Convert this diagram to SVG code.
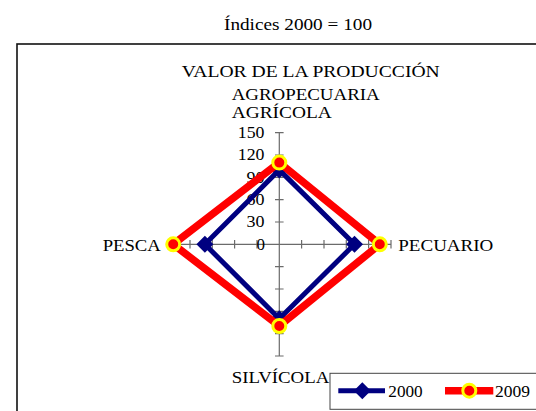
<svg xmlns="http://www.w3.org/2000/svg" width="536" height="411" viewBox="0 0 536 411">
<defs>
<style>
text{font-family:'Liberation Serif','Times New Roman',serif;font-size:16px;fill:#000}
.ax{stroke:#6b6b6b;stroke-width:1.2;fill:none}
.s2000{stroke:#000080;stroke-width:5;fill:none;stroke-linejoin:miter}
.s2009{stroke:#ff0000;stroke-width:7.5;fill:none;stroke-linejoin:miter}
.dia{fill:#000080}
.cir{fill:#ff0000;stroke:#ffff00;stroke-width:3}
</style>
<path id="dm" d="M0,-8.5 L8.5,0 L0,8.5 L-8.5,0 Z" class="dia"/>
</defs>
<rect width="536" height="411" fill="#fff"/>
<text id="subtitle" x="224" y="29.5" style="font-size:17px" textLength="148" lengthAdjust="spacingAndGlyphs">Índices 2000 = 100</text>
<rect id="frame" x="17" y="44" width="600" height="420" fill="#fff" stroke="#111" stroke-width="1.6"/>
<g id="title">
<text x="181.7" y="77.3" textLength="258" lengthAdjust="spacingAndGlyphs">VALOR DE LA PRODUCCIÓN</text>
<text x="231.7" y="100" textLength="148" lengthAdjust="spacingAndGlyphs">AGROPECUARIA</text>
</g>
<g id="axes">
<path class="ax" d="M279.3,132.7 V356 M167.6,244.3 H391"/>
<path class="ax" d="M275,132.7 H283.6 M275,155 H283.6 M275,177.3 H283.6 M275,199.6 H283.6 M275,222 H283.6 M275,266.6 H283.6 M275,289 H283.6 M275,311.3 H283.6 M275,333.6 H283.6 M275,356 H283.6"/>
<path class="ax" d="M167.6,240 V248.6 M190,240 V248.6 M212.3,240 V248.6 M234.6,240 V248.6 M257,240 V248.6 M301.6,240 V248.6 M324,240 V248.6 M346.3,240 V248.6 M368.6,240 V248.6 M391,240 V248.6"/>
</g>
<g id="axis-labels" text-anchor="end">
<text x="264.5" y="138" textLength="26.7" lengthAdjust="spacingAndGlyphs">150</text>
<text x="264.5" y="160.3" textLength="26.7" lengthAdjust="spacingAndGlyphs">120</text>
<text x="264.5" y="182.6" textLength="18" lengthAdjust="spacingAndGlyphs">90</text>
<text x="264.5" y="205" textLength="18" lengthAdjust="spacingAndGlyphs">60</text>
<text x="264.5" y="227.3" textLength="18" lengthAdjust="spacingAndGlyphs">30</text>
<text x="265" y="250" textLength="8.5" lengthAdjust="spacingAndGlyphs">0</text>
</g>
<g id="node-agricola"><text x="231.7" y="118.3" textLength="100" lengthAdjust="spacingAndGlyphs">AGRÍCOLA</text></g>
<g id="node-pecuario"><text x="398.3" y="251" textLength="95" lengthAdjust="spacingAndGlyphs">PECUARIO</text></g>
<g id="node-silvicola"><text x="231.7" y="383.3" textLength="97.6" lengthAdjust="spacingAndGlyphs">SILVÍCOLA</text></g>
<g id="node-pesca"><text x="102.7" y="251" textLength="58" lengthAdjust="spacingAndGlyphs">PESCA</text></g>
<g id="connectors">
<g id="series-2000">
<path class="s2000" d="M279.3,169.9 L354.5,244.3 L279.3,318.7 L204.9,244.3 Z"/>
<use href="#dm" x="279.3" y="169.9"/>
<use href="#dm" x="354.5" y="244.3"/>
<use href="#dm" x="279.3" y="318.7"/>
<use href="#dm" x="204.9" y="244.3"/>
</g>
<g id="series-2009">
<path class="s2009" d="M279.3,162.6 L379.8,244.3 L279.3,326 L173.2,244.3 Z"/>
<circle class="cir" cx="279.3" cy="162.6" r="6.5"/>
<circle class="cir" cx="379.8" cy="244.3" r="6.5"/>
<circle class="cir" cx="279.3" cy="326" r="6.5"/>
<circle class="cir" cx="173.2" cy="244.3" r="6.5"/>
</g>
</g>
<g id="legend">
<rect x="330" y="373.3" width="220" height="36" fill="#fff" stroke="#444" stroke-width="1"/>
<path d="M338.3,390.7 H385" stroke="#000080" stroke-width="5"/>
<use href="#dm" x="362.3" y="390.7"/>
<text x="388.3" y="396.7" textLength="34.4" lengthAdjust="spacingAndGlyphs">2000</text>
<path d="M445,390.7 H493.3" stroke="#ff0000" stroke-width="7.5"/>
<circle class="cir" cx="469.3" cy="390.7" r="6.5"/>
<text x="495" y="396.7" textLength="35" lengthAdjust="spacingAndGlyphs">2009</text>
</g>
</svg>
